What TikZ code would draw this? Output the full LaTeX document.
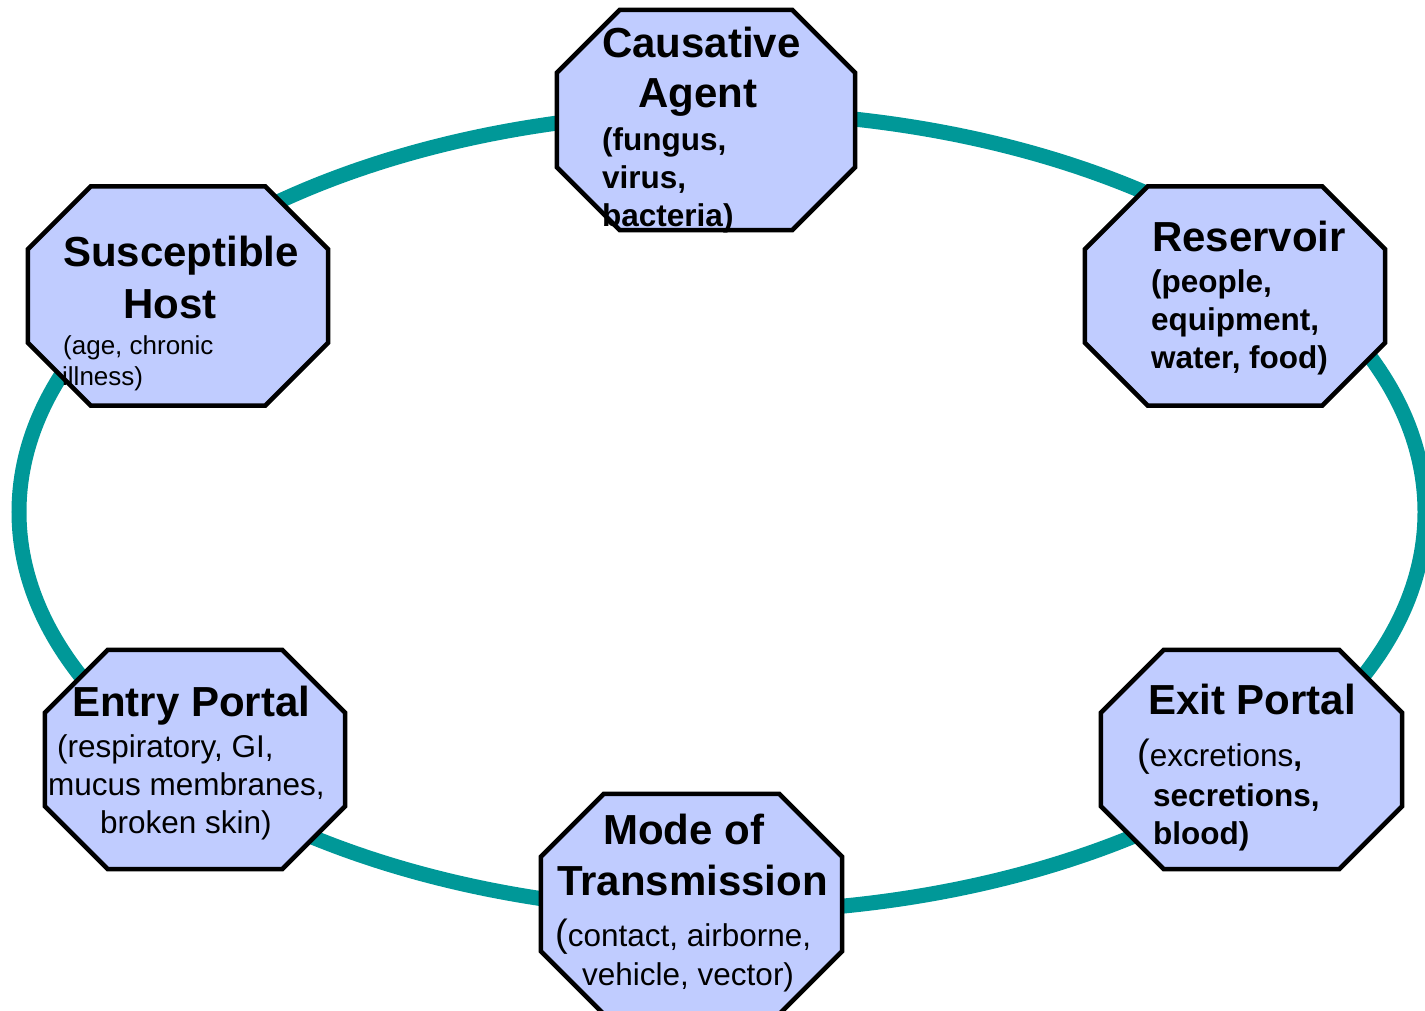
\documentclass[tikz,border=0pt]{standalone}
\usepackage{fontspec}
\setmainfont{Liberation Sans}
\usetikzlibrary{calc}
\definecolor{ringteal}{RGB}{0,152,152}
\definecolor{boxblue}{RGB}{192,204,255}
\newcommand\octbox[1]{%
  \filldraw[octo] ($(#1.north west)+(63pt,0pt)$) -- ($(#1.north east)+(-63pt,0pt)$)
   -- ($(#1.north east)+(0pt,-63pt)$) -- ($(#1.south east)+(0pt,63pt)$)
   -- ($(#1.south east)+(-63pt,0pt)$) -- ($(#1.south west)+(63pt,0pt)$)
   -- ($(#1.south west)+(0pt,63pt)$) -- ($(#1.north west)+(0pt,-63pt)$) -- cycle;}
\tikzset{
  octo/.style={fill=boxblue, draw=black, line width=4.5pt, line join=miter},
  holder/.style={rectangle, inner sep=0pt, minimum width=300pt, minimum height=219pt},
  ttl/.style={anchor=base west, inner sep=0pt, font=\bfseries\fontsize{42}{50}\selectfont},
  subb/.style={anchor=base west, inner sep=0pt, font=\bfseries\fontsize{31.5}{38}\selectfont},
  subr/.style={anchor=base west, inner sep=0pt, font=\fontsize{31.5}{38}\selectfont},
  subs/.style={anchor=base west, inner sep=0pt, font=\fontsize{26}{32}\selectfont},
  ring/.style={draw=ringteal, line width=15pt}
}
\newcommand\bigparen{{\fontsize{38}{40}\selectfont(}}
\begin{document}
\begin{tikzpicture}[x=1pt,y=-1pt]
\useasboundingbox (0,0) rectangle (1425,1011);
% ring
\draw[ring] (722,512) ellipse [x radius=703pt, y radius=400pt];
% holders
\node[holder, minimum width=298pt, minimum height=220pt] (agent) at (706,120) {};
\node[holder] (host) at (178,296) {};
\node[holder] (reservoir) at (1235,296) {};
\node[holder] (entry) at (195,759.5) {};
\node[holder, minimum width=301pt] (exit) at (1251.5,759.5) {};
\node[holder, minimum width=301pt, minimum height=220pt] (mode) at (691.5,904) {};
\octbox{agent}
\octbox{host}
\octbox{reservoir}
\octbox{entry}
\octbox{exit}
\octbox{mode}
% Causative Agent
\node[ttl] (a1) at (602,58) {Causative};
\node[ttl] (a2) at (638,108) {Agent};
\node[subb] (a3) at (602,151) {(fungus,};
\node[subb] (a4) at (602,189) {virus,};
\node[subb] (a5) at (602,227) {bacteria)};
% Susceptible Host
\node[ttl] (h1) at (63,267) {Susceptible};
\node[ttl] (h2) at (123,318) {Host};
\node[subs] (h3) at (63,354) {(age, chronic};
\node[subs] (h4) at (62,385) {illness)};
% Reservoir
\node[ttl] (r1) at (1152,252) {Reservoir};
\node[subb] (r2) at (1151,292) {(people,};
\node[subb] (r3) at (1151,330) {equipment,};
\node[subb] (r4) at (1151,368) {water, food)};
% Entry Portal
\node[ttl] (e1) at (72,716) {Entry Portal};
\node[subr] (e2) at (57,757) {(respiratory, GI,};
\node[subr] (e3) at (48,795) {mucus membranes,};
\node[subr] (e4) at (100,833) {broken skin)};
% Exit Portal
\node[ttl] (x1) at (1148,714) {Exit Portal};
\node[subr] (x2) at (1137,766) {\bigparen excretions\textbf{,}};
\node[subb] (x3) at (1153,806) {secretions,};
\node[subb] (x4) at (1153,844) {blood)};
% Mode of Transmission
\node[ttl] (m1) at (603,844) {Mode of};
\node[ttl] (m2) at (557,895) {Transmission};
\node[subr] (m3) at (555,946) {\bigparen contact, airborne,};
\node[subr] (m4) at (582,985) {vehicle, vector)};
\end{tikzpicture}
\end{document}
